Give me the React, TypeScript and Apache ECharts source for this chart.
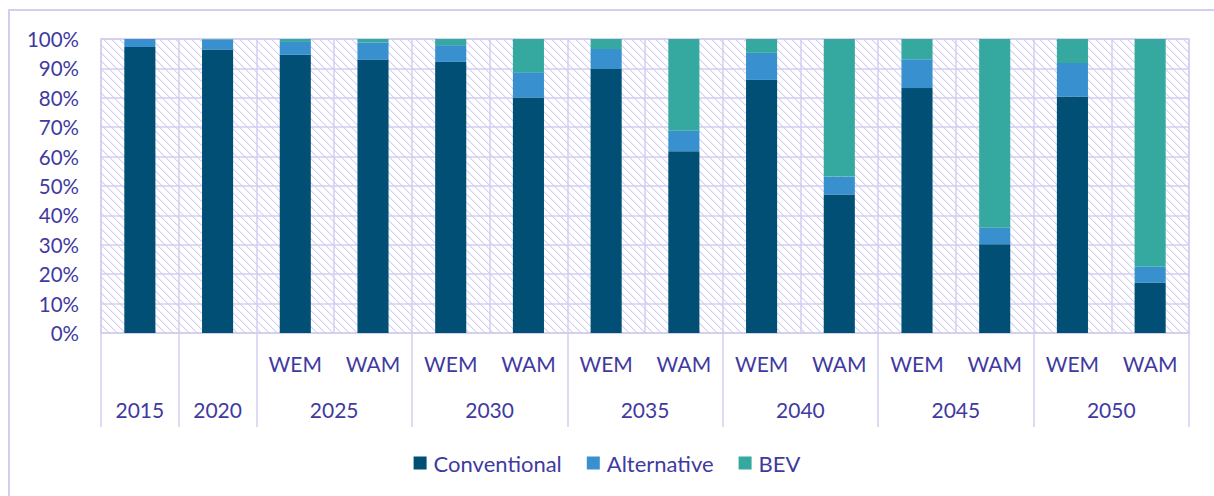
import React, { useEffect, useRef } from "react";
import * as echarts from "echarts";

const scenarioLabels = ["", "", "WEM", "WAM", "WEM", "WAM", "WEM", "WAM", "WEM", "WAM", "WEM", "WAM", "WEM", "WAM"];
const yearLabels = ["2015", "2020", "2025", "2030", "2035", "2040", "2045", "2050"];
const barsPerYear = [1, 1, 2, 2, 2, 2, 2, 2];
const conventional = [97.3, 96.4, 94.6, 92.9, 92.2, 80.1, 89.8, 61.8, 86.1, 47.1, 83.3, 30.2, 80.4, 17.2];
const alternative = [2.7, 3.4, 4.4, 5.9, 5.7, 8.6, 6.8, 7.0, 9.2, 6.1, 9.8, 5.6, 11.4, 5.3];
const bev = [0, 0.2, 1.0, 1.2, 2.1, 11.3, 3.4, 31.2, 4.7, 46.8, 6.9, 64.2, 8.2, 77.5];
const yTicks = { min: 0, max: 100, interval: 10 };

const TEXT = "#3F3A9F";
const LAV = "#D3CEF0";
const FONT = "Lato, 'Open Sans', sans-serif";

function makeHatch(): string {
  const s = 8;
  const c = document.createElement("canvas");
  c.width = s;
  c.height = s;
  const ctx = c.getContext("2d")!;
  ctx.fillStyle = "#ffffff";
  ctx.fillRect(0, 0, s, s);
  const img = ctx.getImageData(0, 0, s, s);
  for (let y = 0; y < s; y++) {
    for (let x = 0; x < s; x++) {
      const d = (x - y + s) % s;
      const i = (y * s + x) * 4;
      if (d === 0) {
        img.data[i] = 212; img.data[i + 1] = 208; img.data[i + 2] = 244; img.data[i + 3] = 255;
      } else if (d === 1) {
        img.data[i] = 236; img.data[i + 1] = 234; img.data[i + 2] = 251; img.data[i + 3] = 255;
      }
    }
  }
  ctx.putImageData(img, 0, 0);
  return c.toDataURL();
}

export default function App() {
  const ref = useRef<HTMLDivElement>(null);
  useEffect(() => {
    if (!ref.current) return;
    const chart = echarts.init(ref.current, null, { renderer: "svg" });

    const boundaries: number[] = [0];
    const centers: number[] = [];
    let acc = 0;
    barsPerYear.forEach((n) => {
      centers.push(acc + n / 2);
      acc += n;
      boundaries.push(acc);
    });
    const total = acc;

    const hatch = makeHatch();

    chart.setOption({
      animation: false,
      textStyle: { fontFamily: FONT },
      graphic: [
        {
          type: "rect",
          shape: { x: 9, y: 10, width: 1400, height: 700 },
          style: { fill: "none", stroke: LAV, lineWidth: 2 },
          silent: true,
          z: -10,
        },
      ],
      grid: {
        left: 101,
        right: 25,
        top: 39,
        bottom: 163,
        show: true,
        backgroundColor: { image: hatch, repeat: "repeat" },
        borderColor: LAV,
        borderWidth: 1.5,
      },
      legend: {
        top: 447,
        left: "center",
        itemWidth: 13,
        itemHeight: 13,
        itemGap: 25,
        icon: "rect",
        textStyle: { color: TEXT, fontSize: 22, fontFamily: FONT, padding: [0, 0, 0, 2] },
        data: ["Conventional", "Alternative", "BEV"],
      },
      xAxis: [
        {
          type: "category",
          data: scenarioLabels,
          position: "bottom",
          axisLine: { show: true, lineStyle: { color: LAV, width: 1.5 } },
          axisTick: { show: false },
          axisLabel: { color: TEXT, fontSize: 21, margin: 20, interval: 0, fontFamily: FONT },
          splitLine: { show: true, interval: 0, lineStyle: { color: LAV, width: 1.5 } },
        },
        {
          type: "value",
          min: 0,
          max: total,
          position: "bottom",
          axisLine: { show: false },
          splitLine: { show: false },
          axisTick: {
            show: true,
            customValues: boundaries,
            length: 94,
            lineStyle: { color: LAV, width: 1.5 },
          },
          axisLabel: {
            show: true,
            customValues: centers,
            margin: 66,
            color: TEXT,
            fontSize: 21,
            fontFamily: FONT,
            formatter: (v: number) => {
              const i = centers.findIndex((c) => Math.abs(c - v) < 1e-6);
              return i >= 0 ? yearLabels[i] : "";
            },
          },
        },
      ],
      yAxis: {
        type: "value",
        min: yTicks.min,
        max: yTicks.max,
        interval: yTicks.interval,
        axisLine: { show: false },
        axisTick: { show: false },
        axisLabel: { color: TEXT, fontSize: 20.5, margin: 22, formatter: "{value}%", fontFamily: FONT },
        splitLine: { show: true, lineStyle: { color: LAV, width: 1.5 } },
      },
      series: [
        {
          name: "Conventional",
          type: "bar",
          stack: "total",
          barWidth: "40%",
          data: conventional,
          itemStyle: { color: "#014F75" },
        },
        {
          name: "Alternative",
          type: "bar",
          stack: "total",
          data: alternative,
          itemStyle: { color: "#3891CE" },
        },
        {
          name: "BEV",
          type: "bar",
          stack: "total",
          data: bev,
          itemStyle: { color: "#35A99F" },
        },
      ],
    });
    return () => chart.dispose();
  }, []);
  return (
    <div
      ref={ref}
      style={{ position: "fixed", left: 0, top: 0, width: 1214, height: 496, background: "#fff" }}
    />
  );
}
